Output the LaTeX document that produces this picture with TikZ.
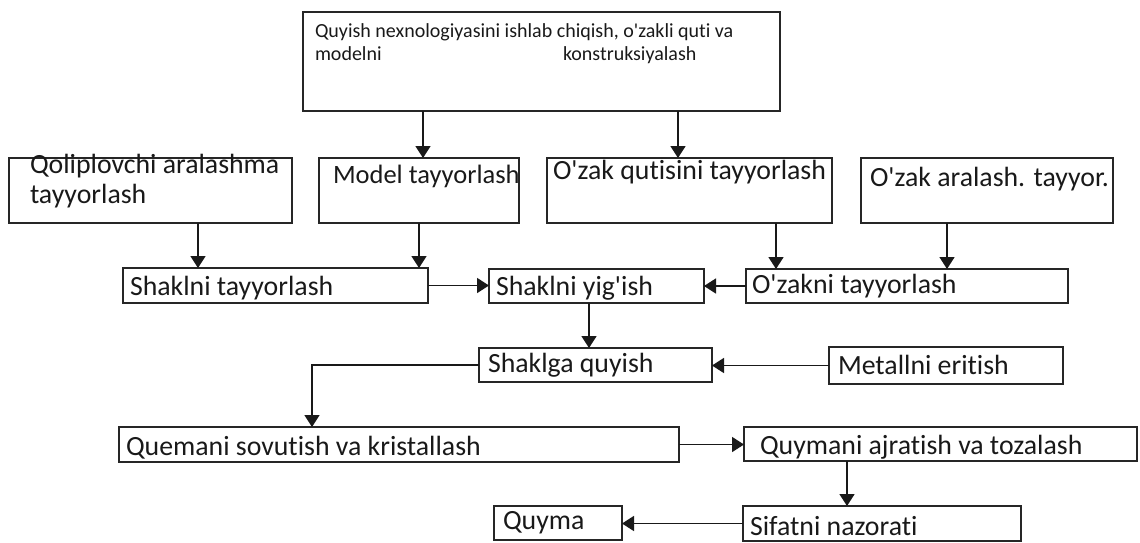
\documentclass[tikz,border=0pt]{standalone}
\usepackage{fontspec}
\setmainfont{Carlito}[Ligatures={NoCommon}]
\usetikzlibrary{arrows.meta}
\newcommand{\ap}{\textquotesingle}
\begin{document}
\begin{tikzpicture}[x=1pt,y=-1pt,
  box/.style={draw=black!85,line width=1.6pt,rectangle,inner sep=0pt,outer sep=0pt,anchor=north west},
  lbl/.style={inner sep=0pt,outer sep=0pt,anchor=base west,font=\fontsize{27.8}{32}\selectfont,text=black!90},
  lblm/.style={lbl,font=\fontsize{26.5}{30}\selectfont},
  small/.style={inner sep=0pt,outer sep=0pt,anchor=base west,font=\fontsize{20}{24}\selectfont,text=black!90},
  arr/.style={line width=1.6pt,draw=black!90,-{Triangle[width=15pt,length=12pt]}}]
\useasboundingbox (0,0) rectangle (1140,542);
% boxes
\node[box,minimum width=477pt,minimum height=99pt] (top) at (303,12) {};
\node[box,minimum width=283pt,minimum height=65pt] (qol) at (9,158) {};
\node[box,minimum width=200pt,minimum height=65pt] (mod) at (319,158) {};
\node[box,minimum width=285pt,minimum height=65pt] (ozq) at (547,158) {};
\node[box,minimum width=252pt,minimum height=65pt] (oza) at (861,158) {};
\node[box,minimum width=305pt,minimum height=35pt] (sht) at (123,268) {};
\node[box,minimum width=215pt,minimum height=34pt] (shy) at (489,269) {};
\node[box,minimum width=322pt,minimum height=34pt] (ozt) at (746,269) {};
\node[box,minimum width=233pt,minimum height=34pt] (shq) at (479,348) {};
\node[box,minimum width=234pt,minimum height=37pt] (met) at (829,347) {};
\node[box,minimum width=560pt,minimum height=35pt] (que) at (119,427) {};
\node[box,minimum width=393pt,minimum height=34pt] (quy) at (744,427) {};
\node[box,minimum width=128pt,minimum height=34pt] (quyma) at (494,506) {};
\node[box,minimum width=278pt,minimum height=35pt] (sif) at (743,506) {};
% labels
\node[small] (t1) at (315,37) {Quyish nexnologiyasini ishlab chiqish, o\ap zakli quti va};
\node[small] (t2) at (315,60) {modelni};
\node[small] (t3) at (563,60) {konstruksiyalash};
\node[lbl] (l1) at (30,173) {Qoliplovchi aralashma};
\node[lbl] (l2) at (30,203) {tayyorlash};
\node[lblm] (l3) at (333,183) {Model tayyorlash};
\node[lbl] (l4) at (553,179) {O\ap zak qutisini tayyorlash};
\node[lbl] (l5) at (870,186) {O\ap zak aralash. tayyor.};
\node[lbl] (l6) at (130,295) {Shaklni tayyorlash};
\node[lbl] (l7) at (496,295) {Shaklni yig\ap ish};
\node[lbl] (l8) at (752,293) {O\ap zakni tayyorlash};
\node[lbl] (l9) at (488,372) {Shaklga quyish};
\node[lbl] (l10) at (838,374) {Metallni eritish};
\node[lbl] (l11) at (126,455) {Quemani sovutish va kristallash};
\node[lbl] (l12) at (760,454) {Quymani ajratish va tozalash};
\node[lbl] (l13) at (503,529) {Quyma};
\node[lbl] (l14) at (750,535) {Sifatni nazorati};
% helper coordinates
\coordinate (c1) at (423,0);
\coordinate (c2) at (678,0);
\coordinate (c3) at (198,0);
\coordinate (c6) at (776,0);
\coordinate (c7) at (947,0);
\coordinate (c9) at (589,0);
\coordinate (c11) at (312,0);
\coordinate (c13) at (847,0);
% connectors
\draw[arr] (c1 |- top.south) -- (c1 |- mod.north);
\draw[arr] (c2 |- top.south) -- (c2 |- ozq.north);
\draw[arr] (c3 |- qol.south) -- (c3 |- sht.north);
\draw[arr] (mod.south) -- (mod.south |- sht.north);
\draw[arr] (sht.east) -- (sht.east -| shy.west);
\draw[arr] (c6 |- ozq.south) -- (c6 |- ozt.north);
\draw[arr] (c7 |- oza.south) -- (c7 |- ozt.north);
\draw[arr] (ozt.west) -- (ozt.west -| shy.east);
\draw[arr] (c9 |- shy.south) -- (c9 |- shq.north);
\draw[arr] (met.west) -- (met.west -| shq.east);
\draw[arr] (shq.west) -| (c11 |- que.north);
\draw[arr] (que.east) -- (que.east -| quy.west);
\draw[arr] (c13 |- quy.south) -- (c13 |- sif.north);
\draw[arr] (sif.west) -- (sif.west -| quyma.east);
\end{tikzpicture}
\end{document}
